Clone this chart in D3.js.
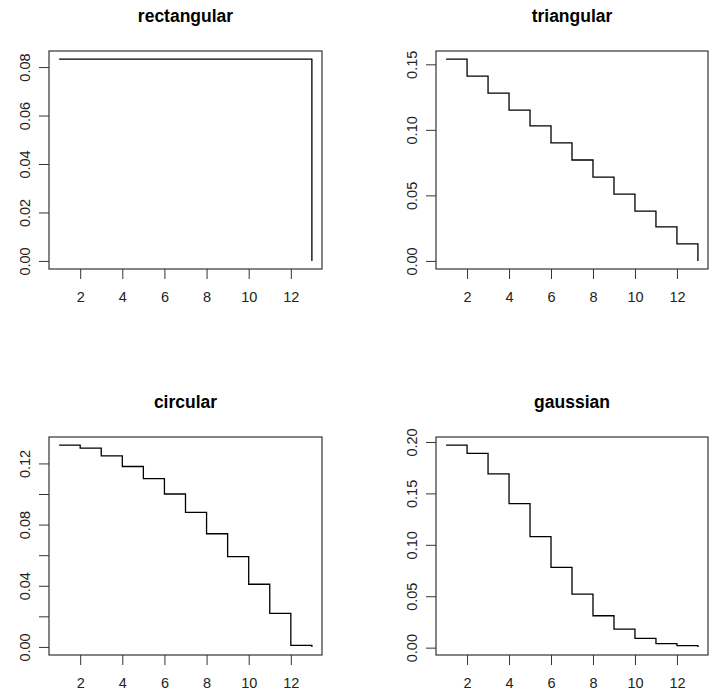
<!DOCTYPE html>
<html>
<head>
<meta charset="utf-8">
<script src="https://cdn.jsdelivr.net/npm/d3@7"></script>
<style>
  body { margin: 0; background: #fff; }
  svg { display: block; }
  .tick text { font-family: "Liberation Sans", Arial, sans-serif; font-size: 14.5px; fill: #222; }
  .title { font-family: "Liberation Sans", Arial, sans-serif; font-size: 17.5px; font-weight: bold; fill: #000; }
</style>
</head>
<body>
<div id="chart"></div>
<script>
const xs = [1, 2, 3, 4, 5, 6, 7, 8, 9, 10, 11, 12, 13];

const rectangular = [0.0833, 0.0833, 0.0833, 0.0833, 0.0833, 0.0833, 0.0833, 0.0833, 0.0833, 0.0833, 0.0833, 0.0833, 0];
const triangular = [0.154, 0.141, 0.128, 0.115, 0.103, 0.090, 0.077, 0.064, 0.051, 0.038, 0.026, 0.013, 0];
const circular = [0.132, 0.130, 0.125, 0.118, 0.110, 0.100, 0.088, 0.074, 0.059, 0.041, 0.022, 0.001, 0];
const gaussian = [0.197, 0.189, 0.169, 0.140, 0.108, 0.078, 0.052, 0.031, 0.018, 0.009, 0.004, 0.002, 0.0007];

const xTicks = [2, 4, 6, 8, 10, 12];
const yTicksRect = [0, 0.02, 0.04, 0.06, 0.08];
const yTicksTri = [0, 0.05, 0.10, 0.15];
const yTicksCirc = [0, 0.02, 0.04, 0.06, 0.08, 0.10, 0.12];
const yTicksGauss = [0, 0.05, 0.10, 0.15, 0.20];

const panels = [
    { title: 'rectangular', values: rectangular, ticks: yTicksRect, labelEvery: 1 },
    { title: 'triangular', values: triangular, ticks: yTicksTri, labelEvery: 1 },
    { title: 'circular', values: circular, ticks: yTicksCirc, labelEvery: 2 },
    { title: 'gaussian', values: gaussian, ticks: yTicksGauss, labelEvery: 1 },
];

const width = 716;
const height = 698;
const boxes = [
    { left: 49, right: 322, top: 51, bottom: 269 },
    { left: 436, right: 708, top: 51, bottom: 269 },
    { left: 49, right: 322, top: 437, bottom: 655 },
    { left: 436, right: 708, top: 437, bottom: 655 },
];

const svg = d3.select('#chart')
    .append('svg')
    .attr('width', width)
    .attr('height', height);

// R style 4% padding on both ends
function padded(lo, hi) {
    const p = (hi - lo) * 0.04;
    return [lo - p, hi + p];
}

panels.forEach((panel, i) => {
    const box = boxes[i];
    const g = svg.append('g');

    const xScale = d3.scaleLinear()
        .domain(padded(d3.min(xs), d3.max(xs)))
        .range([box.left, box.right]);
    const yScale = d3.scaleLinear()
        .domain(padded(d3.min(panel.values), d3.max(panel.values)))
        .range([box.bottom, box.top]);

    // x axis
    const xAxis = g.append('g')
        .attr('transform', `translate(0, ${box.bottom})`)
        .call(d3.axisBottom(xScale).tickValues(xTicks).tickSize(10).tickFormat(d3.format('d')));
    xAxis.select('.domain').remove();
    xAxis.selectAll('.tick line').attr('stroke', '#333');
    xAxis.selectAll('.tick text').attr('y', 33).attr('dy', 0);

    // y axis, labels rotated like base R
    const yAxis = g.append('g')
        .attr('transform', `translate(${box.left}, 0)`)
        .call(d3.axisLeft(yScale)
            .tickValues(panel.ticks)
            .tickSize(10)
            .tickFormat((d, j) => (j % panel.labelEvery === 0 ? d3.format('.2f')(d) : '')));
    yAxis.select('.domain').remove();
    yAxis.selectAll('.tick line').attr('stroke', '#333');
    yAxis.selectAll('.tick text')
        .attr('x', 0)
        .attr('dy', 0)
        .attr('text-anchor', 'middle')
        .attr('transform', 'translate(-19.5, 0) rotate(-90)');

    // box
    g.append('rect')
        .attr('x', box.left)
        .attr('y', box.top)
        .attr('width', box.right - box.left)
        .attr('height', box.bottom - box.top)
        .attr('fill', 'none')
        .attr('stroke', '#333')
        .attr('stroke-width', 1.2);

    // step line
    const line = d3.line()
        .x((d, j) => xScale(xs[j]))
        .y((d) => yScale(d))
        .curve(d3.curveStepAfter);

    g.append('path')
        .datum(panel.values)
        .attr('d', line)
        .attr('fill', 'none')
        .attr('stroke', '#000')
        .attr('stroke-width', 1.3);

    g.append('text')
        .attr('class', 'title')
        .attr('x', (box.left + box.right) / 2)
        .attr('y', box.top - 29)
        .attr('text-anchor', 'middle')
        .text(panel.title);
});
</script>
</body>
</html>
